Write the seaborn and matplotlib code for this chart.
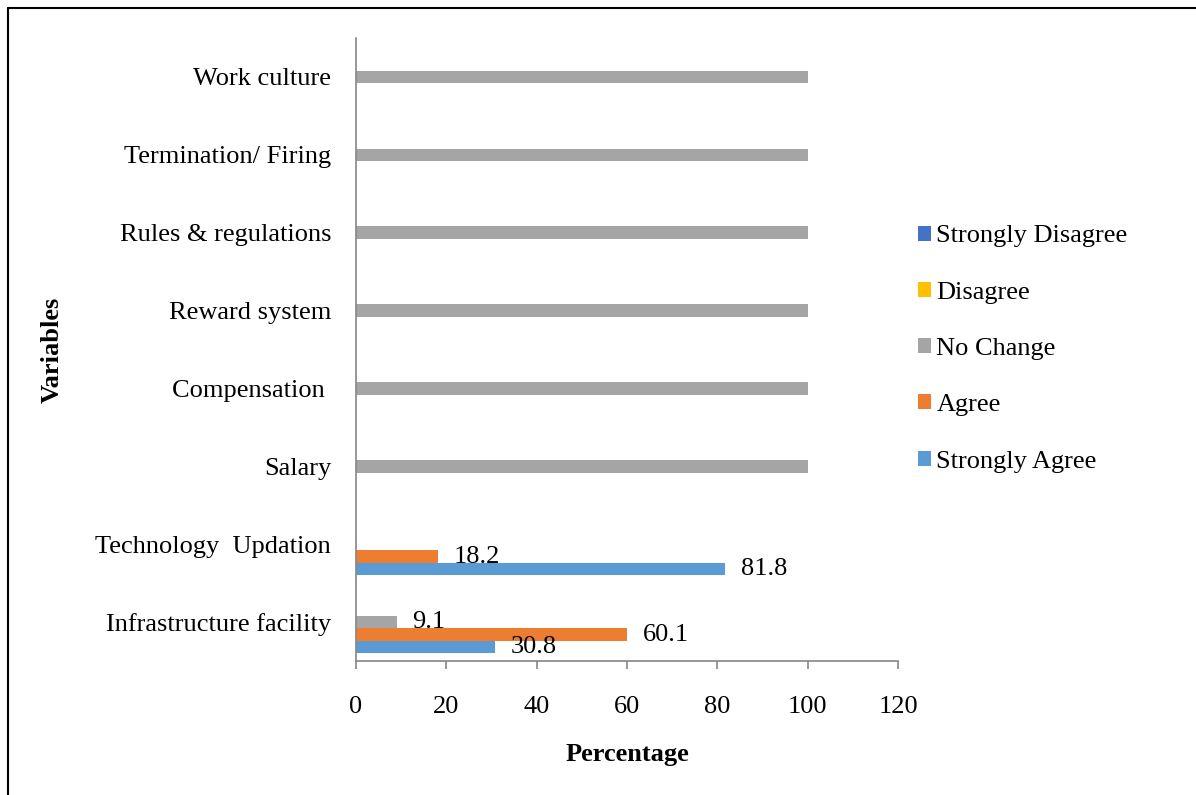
import pandas as pd
import matplotlib
matplotlib.use('Agg')
import matplotlib.pyplot as plt
from matplotlib.lines import Line2D
import seaborn as sns

categories = ['Work culture', 'Termination/ Firing', 'Rules & regulations',
              'Reward system', 'Compensation ', 'Salary',
              'Technology  Updation', 'Infrastructure facility']
responses = ['Strongly Disagree', 'Disagree', 'No Change', 'Agree', 'Strongly Agree']

strongly_agree = [0, 0, 0, 0, 0, 0, 81.8, 30.8]
agree = [0, 0, 0, 0, 0, 0, 18.2, 60.1]
no_change = [100, 100, 100, 100, 100, 100, 0, 9.1]
disagree = [0, 0, 0, 0, 0, 0, 0, 0]
strongly_disagree = [0, 0, 0, 0, 0, 0, 0, 0]

colors = {'Strongly Disagree': '#4472C4', 'Disagree': '#FFC000',
          'No Change': '#A5A5A5', 'Agree': '#ED7D31', 'Strongly Agree': '#5B9BD5'}

values = {'Strongly Disagree': strongly_disagree, 'Disagree': disagree,
          'No Change': no_change, 'Agree': agree, 'Strongly Agree': strongly_agree}

rows = []
for resp in responses:
    for cat, v in zip(categories, values[resp]):
        rows.append({'Variable': cat, 'Response': resp, 'Percentage': v})
df = pd.DataFrame(rows)

sns.set_style('white')
plt.rcParams['font.family'] = ['Liberation Serif', 'DejaVu Serif']
plt.rcParams['font.size'] = 19
plt.rcParams['text.color'] = 'black'
plt.rcParams['axes.labelcolor'] = 'black'
plt.rcParams['xtick.color'] = 'black'
plt.rcParams['ytick.color'] = 'black'

fig = plt.figure(figsize=(11.96, 7.95), dpi=100)
ax = fig.add_axes([356 / 1196, 1 - 661 / 795, 542 / 1196, 623 / 795])

sns.barplot(data=df, y='Variable', x='Percentage', hue='Response',
            order=categories, hue_order=responses, palette=colors,
            saturation=1, orient='h', width=0.8, linewidth=0, ax=ax)

# data labels only for the two mixed rows
for cont, resp in zip(ax.containers, responses):
    labels = []
    for cat, v in zip(categories, values[resp]):
        if v == 0 or v == 100:
            labels.append('')
        else:
            labels.append('{:.1f}'.format(v))
    ax.bar_label(cont, labels=labels, padding=11, fontsize=19, color='black')

ax.set_xlim(0, 120)
ax.set_xticks(range(0, 121, 20))
ax.set_ylim(7.5, -0.5)

for side in ['top', 'right']:
    ax.spines[side].set_visible(False)
for side in ['left', 'bottom']:
    ax.spines[side].set_color('#868686')
    ax.spines[side].set_linewidth(1.2)

ax.tick_params(axis='x', length=5.5, width=1.2, color='#868686', pad=20,
               labelsize=19, bottom=True, labelcolor='black')
ax.tick_params(axis='y', length=0, pad=18, labelsize=19, labelcolor='black')

ax.set_xlabel('Percentage', fontsize=19, fontweight='bold', labelpad=18)
ax.set_ylabel('Variables', fontsize=19, fontweight='bold', labelpad=23)

handles, labels = ax.get_legend_handles_labels()
ax.get_legend().remove()
fig.legend(handles, labels, loc='center left',
           bbox_to_anchor=(918 / 1196, 1 - 349 / 795),
           frameon=False, borderpad=0, borderaxespad=0,
           handlelength=0.5, handleheight=0.5, handletextpad=0.2,
           labelspacing=1.3, fontsize=19)

# screenshot border (left and top only)
fig.add_artist(Line2D([8 / 1196, 8 / 1196], [0, 1 - 8 / 795],
                      transform=fig.transFigure, color='black', linewidth=1.5))
fig.add_artist(Line2D([8 / 1196, 1], [1 - 8 / 795, 1 - 8 / 795],
                      transform=fig.transFigure, color='black', linewidth=1.5))

plt.savefig('out.png', dpi=100)
